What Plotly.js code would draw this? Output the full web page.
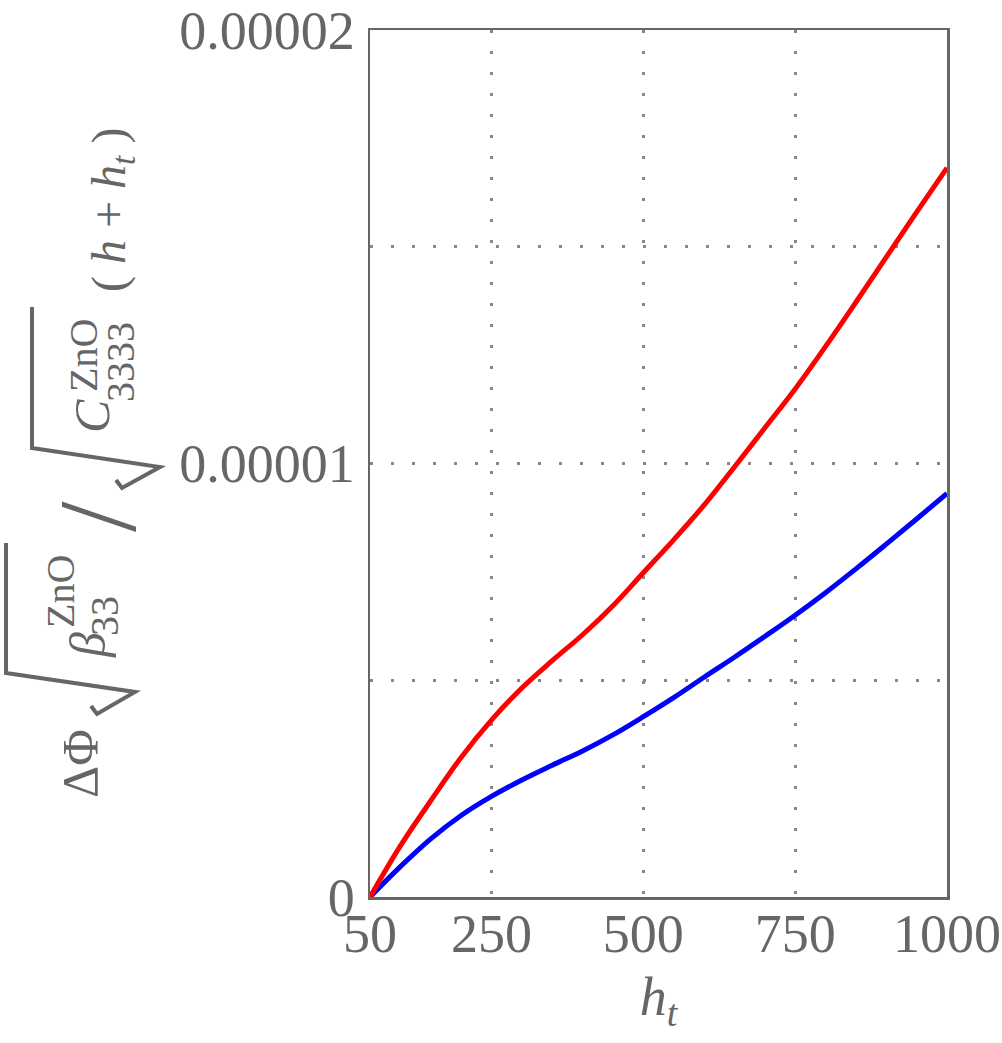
<!DOCTYPE html>
<html>
<head>
<meta charset="utf-8">
<script src="https://cdn.plot.ly/plotly-3.0.1.min.js"></script>
<style>
  html, body { margin: 0; padding: 0; background: #fff; }
  #chart { width: 1002px; height: 1043px; }
</style>
</head>
<body>
<div id="chart"></div>
<script>
// Tip height h_t
const ht = [50, 100, 150, 200, 250, 300, 350, 400, 450, 500, 550, 600, 650, 700, 750, 800, 850, 900, 950, 1000];

// Normalised potential difference, upper (red) curve
const phiRed = [0, 1.18e-6, 2.22e-6, 3.22e-6, 4.08e-6, 4.82e-6, 5.45e-6, 6.05e-6, 6.72e-6, 7.48e-6,
                8.24e-6, 9.04e-6, 9.92e-6, 10.82e-6, 11.72e-6, 12.70e-6, 13.72e-6, 14.76e-6, 15.80e-6, 16.82e-6];

// Normalised potential difference, lower (blue) curve
const phiBlue = [0, 0.70e-6, 1.34e-6, 1.88e-6, 2.32e-6, 2.70e-6, 3.04e-6, 3.37e-6, 3.74e-6, 4.16e-6,
                 4.60e-6, 5.07e-6, 5.53e-6, 6.01e-6, 6.50e-6, 7.02e-6, 7.57e-6, 8.14e-6, 8.72e-6, 9.31e-6];

const xTicks = [50, 250, 500, 750, 1000];
const yTicks = [0, 0.5e-5, 1e-5, 1.5e-5, 2e-5];
const yTickText = ['0', '', '0.00001', '', '0.00002'];

const FONT = 'Liberation Serif, DejaVu Serif, serif';
const GREY = '#666666';

// page geometry: plot area spans 370..947 horizontally and 30..897 vertically
const W = 1002, H = 1043, ML = 370, MR = 55, MT = 30, MB = 146;
const PW = W - ML - MR, PH = H - MT - MB;
const px = (x) => (x - ML) / PW;      // page pixel -> paper x
const py = (y) => (H - MB - y) / PH;  // page pixel -> paper y

const traces = [
  { x: ht, y: phiBlue, type: 'scatter', mode: 'lines',
    line: { color: '#0000ff', width: 5, shape: 'spline', smoothing: 1 }, hoverinfo: 'skip' },
  { x: ht, y: phiRed, type: 'scatter', mode: 'lines',
    line: { color: '#ff0000', width: 5, shape: 'spline', smoothing: 1 }, hoverinfo: 'skip' }
];

const axisCommon = {
  showline: true, mirror: true, linecolor: GREY, linewidth: 2.5,
  showgrid: true, gridcolor: '#888888', gridwidth: 3, griddash: '3px,18px',
  zeroline: false, ticks: '',
  tickfont: { family: FONT, size: 54, color: GREY }
};

// rotated label pieces of the y-axis title
function piece(text, cx, cy, size) {
  return {
    xref: 'paper', yref: 'paper', x: px(cx), y: py(cy),
    xanchor: 'center', yanchor: 'middle', showarrow: false, textangle: -90,
    borderpad: 0, text: text, font: { family: FONT, size: size, color: GREY }
  };
}

// radical signs (hook, short arm, long arm, vinculum)
function radical(pts) {
  const d = pts.map((p, i) => (i ? 'L' : 'M') + px(p[0]).toFixed(5) + ',' + py(p[1]).toFixed(5)).join(' ');
  return { type: 'path', xref: 'paper', yref: 'paper', path: d,
           line: { color: GREY, width: 4 }, layer: 'above' };
}

const layout = {
  width: W, height: H,
  margin: { l: ML, r: MR, t: MT, b: MB },
  paper_bgcolor: '#ffffff', plot_bgcolor: '#ffffff',
  showlegend: false,
  xaxis: Object.assign({}, axisCommon, {
    range: [50, 1000], tickmode: 'array', tickvals: xTicks,
    ticktext: xTicks.map(String), ticklabelstandoff: -12,
    title: { text: '<i>h</i><sub><i>t</i></sub>', standoff: 14,
             font: { family: FONT, size: 54, color: GREY } }
  }),
  yaxis: Object.assign({}, axisCommon, {
    range: [0, 2e-5], tickmode: 'array', tickvals: yTicks,
    ticktext: yTickText, ticklabelstandoff: 2
  }),
  shapes: [
    radical([[91, 706], [97, 714], [135, 692], [6, 673], [6, 543]]),
    radical([[116, 480], [122, 488], [160, 467], [32, 448], [32, 307]])
  ],
  annotations: [
    piece('ΔΦ', 80, 764, 50),
    piece('<i>β</i>', 88, 645, 50),
    piece('ZnO', 60, 592, 40),
    piece('33', 104, 616, 40),
    piece('/', 98, 517, 110),
    piece('<i>C</i>', 92, 416, 50),
    piece('ZnO', 84, 356, 40),
    piece('3333', 121, 362, 40),
    piece('( <i>h</i> + <i>h</i><sub><i>t</i></sub> )', 112, 210, 48)
  ]
};

Plotly.newPlot('chart', traces, layout, { staticPlot: true, displayModeBar: false });
</script>
</body>
</html>
